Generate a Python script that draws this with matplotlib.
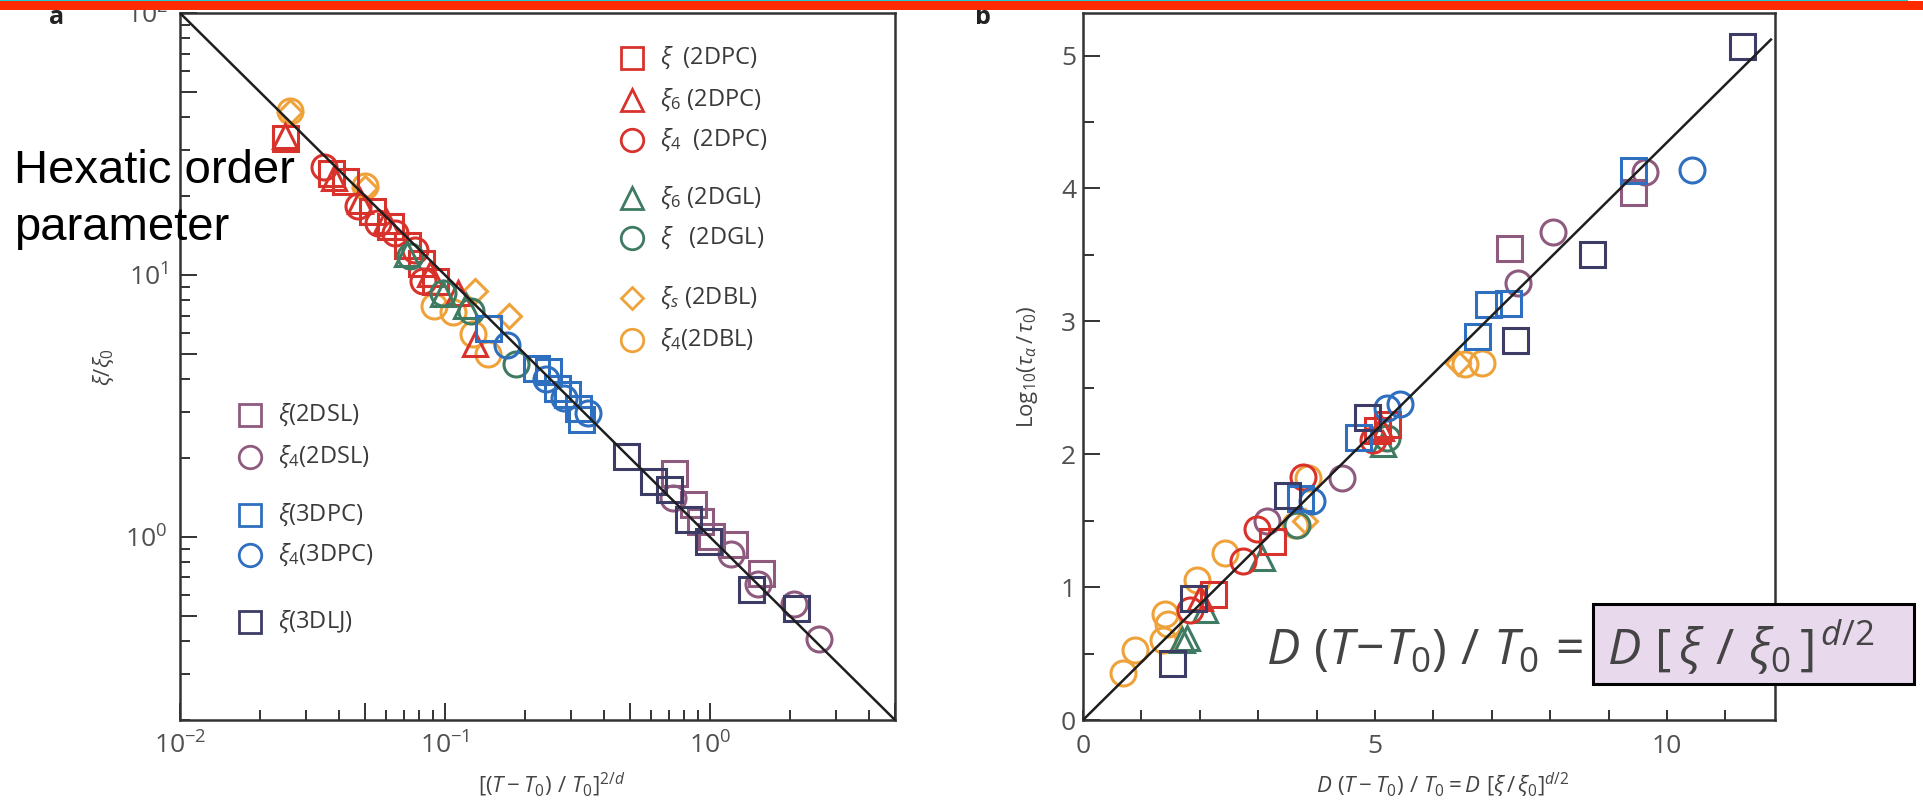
import numpy as np
import matplotlib
matplotlib.use("Agg")
import matplotlib.pyplot as plt
from matplotlib.patches import Rectangle
from matplotlib.ticker import FixedLocator, FuncFormatter, NullFormatter, MultipleLocator

plt.rcParams['font.family'] = ['Open Sans', 'DejaVu Sans']
plt.rcParams['mathtext.fontset'] = 'custom'
plt.rcParams['mathtext.rm'] = 'Open Sans'
plt.rcParams['mathtext.it'] = 'Open Sans:italic'
plt.rcParams['mathtext.bf'] = 'Open Sans:bold'
plt.rcParams['mathtext.sf'] = 'Open Sans'

# ---------------- panel a : xi/xi0 versus reduced temperature ----------------
a_2dpc_xi_x = [0.025, 0.037, 0.042, 0.053, 0.062, 0.072, 0.081, 0.092]
a_2dpc_xi_y = [33.3, 24.5, 22.9, 17.5, 15.4, 13.0, 11.1, 9.5]
a_2dpc_xi6_x = [0.025, 0.038, 0.048, 0.060, 0.088, 0.112, 0.130]
a_2dpc_xi6_y = [34.0, 23.5, 19.1, 16.1, 10.1, 8.5, 5.45]
a_2dpc_xi4_x = [0.035, 0.047, 0.056, 0.065, 0.077, 0.083]
a_2dpc_xi4_y = [25.8, 18.3, 15.8, 14.5, 12.4, 9.5]
a_2dgl_xi6_x = [0.072, 0.098, 0.120]
a_2dgl_xi6_y = [12.0, 8.45, 7.6]
a_2dgl_xi_x = [0.074, 0.098, 0.125, 0.185]
a_2dgl_xi_y = [11.8, 8.5, 7.3, 4.57]
a_2dbl_xis_x = [0.026, 0.050, 0.130, 0.174]
a_2dbl_xis_y = [42.0, 21.5, 8.7, 7.0]
a_2dbl_xi4_x = [0.026, 0.050, 0.091, 0.107, 0.128, 0.146]
a_2dbl_xi4_y = [42.3, 21.8, 7.6, 7.2, 5.95, 5.0]
a_2dsl_xi_x = [0.73, 0.863, 0.92, 1.01, 1.23, 1.56]
a_2dsl_xi_y = [1.75, 1.34, 1.15, 1.01, 0.94, 0.73]
a_2dsl_xi4_x = [0.725, 1.20, 1.52, 2.08, 2.58]
a_2dsl_xi4_y = [1.41, 0.86, 0.66, 0.555, 0.408]
a_3dpc_xi_x = [0.145, 0.220, 0.244, 0.266, 0.290, 0.317, 0.325]
a_3dpc_xi_y = [6.3, 4.42, 4.3, 3.7, 3.5, 3.1, 2.82]
a_3dpc_xi4_x = [0.172, 0.240, 0.281, 0.346]
a_3dpc_xi4_y = [5.4, 4.0, 3.4, 2.97]
a_3dlj_xi_x = [0.481, 0.608, 0.70, 0.826, 0.98, 1.43, 2.11]
a_3dlj_xi_y = [2.04, 1.64, 1.52, 1.17, 0.966, 0.634, 0.536]
a_fit_x = [0.01, 5.0]
a_fit_y = [100.0, 0.2]

# ---------------- panel b : log10(tau_alpha/tau0) ----------------
b_2dpc_xi_x = [2.23, 3.24, 5.03, 5.20]
b_2dpc_xi_y = [0.95, 1.35, 2.18, 2.23]
b_2dpc_xi6_x = [2.00, 5.10]
b_2dpc_xi6_y = [0.92, 2.20]
b_2dpc_xi4_x = [1.83, 2.74, 2.98, 3.77, 4.97]
b_2dpc_xi4_y = [0.83, 1.20, 1.44, 1.83, 2.11]
b_2dgl_xi6_x = [1.70, 1.78, 2.09, 3.07, 5.14]
b_2dgl_xi6_y = [0.60, 0.62, 0.83, 1.22, 2.08]
b_2dgl_xi_x = [3.66, 5.20]
b_2dgl_xi_y = [1.47, 2.12]
b_2dbl_xis_x = [3.80, 6.42]
b_2dbl_xis_y = [1.50, 2.69]
b_2dbl_xi4_x = [0.68, 0.89, 1.37, 1.40, 1.45, 1.95, 2.43, 3.63, 3.85, 6.54, 6.83]
b_2dbl_xi4_y = [0.35, 0.53, 0.60, 0.80, 0.72, 1.05, 1.26, 1.47, 1.82, 2.68, 2.69]
b_2dsl_xi_x = [7.29, 9.42]
b_2dsl_xi_y = [3.55, 3.97]
b_2dsl_xi4_x = [3.15, 4.43, 7.45, 8.05, 9.62]
b_2dsl_xi4_y = [1.50, 1.82, 3.29, 3.67, 4.12]
b_3dpc_xi_x = [3.72, 4.71, 6.75, 6.94, 7.28, 9.42]
b_3dpc_xi_y = [1.67, 2.13, 2.89, 3.13, 3.14, 4.14]
b_3dpc_xi4_x = [3.92, 5.20, 5.43, 10.43]
b_3dpc_xi4_y = [1.65, 2.35, 2.38, 4.14]
b_3dlj_xi_x = [1.52, 1.88, 3.49, 4.86, 7.40, 8.72, 11.28]
b_3dlj_xi_y = [0.43, 0.92, 1.69, 2.28, 2.86, 3.51, 5.07]
b_fit_x = [0.0, 11.78]
b_fit_y = [0.0, 5.12]

RED = '#d8322c'
GREEN = '#3f7a62'
ORANGE = '#f0a23a'
MAUVE = '#8e5a7e'
BLUE = '#2f6fbf'
NAVY = '#3c3c66'

MS = {'s': 18, 'o': 18, '^': 17, 'D': 12.5}

series_a = [
    (a_2dsl_xi_x, a_2dsl_xi_y, 's', MAUVE),
    (a_2dsl_xi4_x, a_2dsl_xi4_y, 'o', MAUVE),
    (a_3dlj_xi_x, a_3dlj_xi_y, 's', NAVY),
    (a_2dbl_xi4_x, a_2dbl_xi4_y, 'o', ORANGE),
    (a_2dbl_xis_x, a_2dbl_xis_y, 'D', ORANGE),
    (a_2dpc_xi_x, a_2dpc_xi_y, 's', RED),
    (a_2dpc_xi6_x, a_2dpc_xi6_y, '^', RED),
    (a_2dpc_xi4_x, a_2dpc_xi4_y, 'o', RED),
    (a_2dgl_xi6_x, a_2dgl_xi6_y, '^', GREEN),
    (a_2dgl_xi_x, a_2dgl_xi_y, 'o', GREEN),
    (a_3dpc_xi_x, a_3dpc_xi_y, 's', BLUE),
    (a_3dpc_xi4_x, a_3dpc_xi4_y, 'o', BLUE),
]
series_b = [
    (b_2dbl_xi4_x, b_2dbl_xi4_y, 'o', ORANGE),
    (b_2dbl_xis_x, b_2dbl_xis_y, 'D', ORANGE),
    (b_2dgl_xi6_x, b_2dgl_xi6_y, '^', GREEN),
    (b_2dgl_xi_x, b_2dgl_xi_y, 'o', GREEN),
    (b_2dsl_xi_x, b_2dsl_xi_y, 's', MAUVE),
    (b_2dsl_xi4_x, b_2dsl_xi4_y, 'o', MAUVE),
    (b_2dpc_xi_x, b_2dpc_xi_y, 's', RED),
    (b_2dpc_xi6_x, b_2dpc_xi6_y, '^', RED),
    (b_2dpc_xi4_x, b_2dpc_xi4_y, 'o', RED),
    (b_3dpc_xi_x, b_3dpc_xi_y, 's', BLUE),
    (b_3dpc_xi4_x, b_3dpc_xi4_y, 'o', BLUE),
    (b_3dlj_xi_x, b_3dlj_xi_y, 's', NAVY),
]

legend_upper = [
    ('s', RED, r'$\xi$  (2DPC)'),
    ('^', RED, r'$\xi_6$ (2DPC)'),
    ('o', RED, r'$\xi_4$  (2DPC)'),
    ('^', GREEN, r'$\xi_6$ (2DGL)'),
    ('o', GREEN, r'$\xi$   (2DGL)'),
    ('D', ORANGE, r'$\xi_s$ (2DBL)'),
    ('o', ORANGE, r'$\xi_4$(2DBL)'),
]
legend_lower = [
    ('s', MAUVE, r'$\xi$(2DSL)'),
    ('o', MAUVE, r'$\xi_4$(2DSL)'),
    ('s', BLUE, r'$\xi$(3DPC)'),
    ('o', BLUE, r'$\xi_4$(3DPC)'),
    ('s', NAVY, r'$\xi$(3DLJ)'),
]

W, H = 1923, 805
fig = plt.figure(figsize=(W / 100, H / 100), dpi=100)
fig.patch.set_facecolor('white')

SPINE = '#333333'
TICKC = '#505050'


def style_axes(ax):
    for s in ax.spines.values():
        s.set_color(SPINE)
        s.set_linewidth(1.8)
    ax.tick_params(which='both', direction='in', color=SPINE, width=1.4,
                   labelcolor=TICKC, labelsize=19)
    ax.tick_params(which='both', top=False, right=False)


def fx(px):
    return px / W


def fy(py):
    return 1 - py / H


# panel a
axa = fig.add_axes([fx(180), fy(720), fx(895) - fx(180), fy(13) - fy(720)])
axa.set_xscale('log')
axa.set_yscale('log')
axa.set_xlim(0.01, 5)
axa.set_ylim(0.2, 100)
style_axes(axa)

axa.xaxis.set_major_locator(FixedLocator([0.01, 0.05, 0.1, 0.5, 1, 5]))
axa.yaxis.set_major_locator(FixedLocator([0.5, 1, 5, 10, 50, 100]))


def decade_fmt(v, pos):
    e = np.log10(v)
    if abs(e - round(e)) < 1e-6:
        return r'$\mathdefault{10^{%d}}$' % round(e)
    return ''


axa.xaxis.set_major_formatter(FuncFormatter(decade_fmt))
axa.yaxis.set_major_formatter(FuncFormatter(decade_fmt))
minor_subs = [2, 3, 4, 6, 7, 8, 9]
axa.xaxis.set_minor_locator(FixedLocator([m * 10.0 ** k for k in (-2, -1, 0) for m in minor_subs]))
axa.yaxis.set_minor_locator(FixedLocator([m * 10.0 ** k for k in (-1, 0, 1) for m in minor_subs]))
axa.xaxis.set_minor_formatter(NullFormatter())
axa.yaxis.set_minor_formatter(NullFormatter())
axa.tick_params(which='major', length=12, pad=9)
axa.tick_params(which='minor', length=7)

for x, y, m, c in series_a:
    axa.plot(x, y, linestyle='none', marker=m, ms=MS[m], mfc='none', mec=c, mew=2.2, zorder=2)
axa.plot(a_fit_x, a_fit_y, color='#1e1e1e', lw=1.8, zorder=3)

axa.set_xlabel(r'$[(T-T_0)\ /\ T_0]^{2/d}$', fontsize=16, color='#444444')
axa.xaxis.set_label_coords(0.52, -0.072)
axa.set_ylabel(r'$\xi/\xi_0$', fontsize=16, color='#444444')
axa.yaxis.set_label_coords(-0.09, 0.5)

# hand-placed legend blocks
upper_rows = [58, 100, 140, 198, 238, 298, 340]
for (m, c, lab), py in zip(legend_upper, upper_rows):
    yy = (720 - py) / 707
    axa.plot([(632 - 180) / 715], [yy], transform=axa.transAxes, linestyle='none', marker=m,
             ms=MS[m] * 0.9, mfc='none', mec=c, mew=2.0, clip_on=False)
    axa.text((660 - 180) / 715, yy, lab, transform=axa.transAxes, va='center', ha='left',
             fontsize=17, color='#3a3a3a')
lower_rows = [415, 457, 515, 555, 622]
for (m, c, lab), py in zip(legend_lower, lower_rows):
    yy = (720 - py) / 707
    axa.plot([(250 - 180) / 715], [yy], transform=axa.transAxes, linestyle='none', marker=m,
             ms=MS[m] * 0.9, mfc='none', mec=c, mew=2.0, clip_on=False)
    axa.text((278 - 180) / 715, yy, lab, transform=axa.transAxes, va='center', ha='left',
             fontsize=17, color='#3a3a3a')

# panel b
axb = fig.add_axes([fx(1083), fy(720), fx(1775) - fx(1083), fy(13) - fy(720)])
axb.set_xlim(0, 11.85)
axb.set_ylim(0, 5.32)
style_axes(axb)
axb.xaxis.set_major_locator(FixedLocator([0, 5, 10]))
axb.xaxis.set_minor_locator(MultipleLocator(1))
axb.yaxis.set_major_locator(FixedLocator([0, 1, 2, 3, 4, 5]))
axb.yaxis.set_minor_locator(MultipleLocator(0.5))
axb.tick_params(axis='x', which='both', length=7, pad=10)
axb.tick_params(axis='y', which='major', length=12, pad=5)
axb.tick_params(axis='y', which='minor', length=8)

for x, y, m, c in series_b:
    axb.plot(x, y, linestyle='none', marker=m, ms=MS[m], mfc='none', mec=c, mew=2.2, zorder=2)
axb.plot(b_fit_x, b_fit_y, color='#1e1e1e', lw=1.8, zorder=3)

axb.set_xlabel(r'$D\ (T-T_0)\ /\ T_0 = D\ [\xi\,/\,\xi_0]^{d/2}$', fontsize=16, color='#444444')
axb.xaxis.set_label_coords(0.52, -0.072)
axb.set_ylabel(r'$\mathrm{Log}_{10}(\tau_\alpha\,/\,\tau_0)$', fontsize=16, color='#444444')
axb.yaxis.set_label_coords(-0.062, 0.5)

# panel letters
fig.text(fx(57), fy(17), 'a', fontsize=18, fontweight='bold', color='#222222', ha='center', va='center')
fig.text(fx(983), fy(17), 'b', fontsize=18, fontweight='bold', color='#222222', ha='center', va='center')

# header strip
fig.add_artist(Rectangle((0, fy(10)), 1, 9 / H, transform=fig.transFigure,
                         facecolor='#fe2a00', edgecolor='none', zorder=20))
fig.add_artist(Rectangle((0, fy(1)), fx(1908), 1 / H, transform=fig.transFigure,
                         facecolor='#19cfcf', edgecolor='none', zorder=21))

# overlay caption on panel a
fig.text(fx(14), fy(183), 'Hexatic order', fontsize=34, color='black',
         family='Liberation Sans', ha='left', va='baseline', zorder=30)
fig.text(fx(14), fy(240), 'parameter', fontsize=34, color='black',
         family='Liberation Sans', ha='left', va='baseline', zorder=30)

# scaling relation with highlighted right-hand side
fig.text(fx(1266), fy(665), r'$D\ (T\!-\!T_0)\ /\ T_0\,=$', fontsize=36, color='#444444',
         ha='left', va='baseline', zorder=30)
fig.add_artist(Rectangle((fx(1593), fy(684)), fx(1914) - fx(1593), (684 - 604) / H,
                         transform=fig.transFigure, facecolor='#e9d9ed', edgecolor='black',
                         linewidth=2.2, zorder=29))
fig.text(fx(1607), fy(665), r'$D\ [\,\xi\,\,/\,\,\xi_0\,]^{\,d/2}$', fontsize=36, color='#444444',
         ha='left', va='baseline', zorder=30)

fig.savefig('out.png', dpi=100, facecolor='white')
